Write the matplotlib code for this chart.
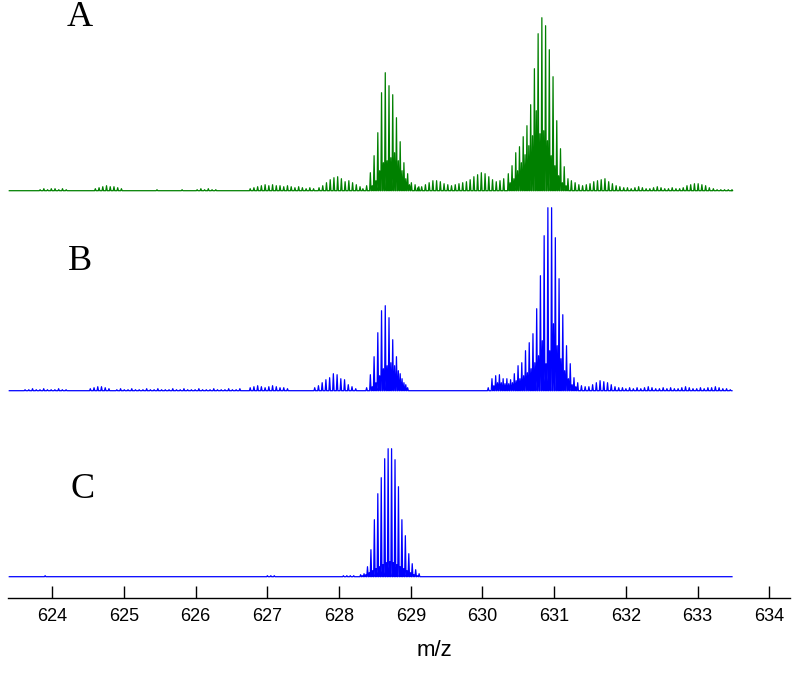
import numpy as np
import matplotlib.pyplot as plt

# isotope peak spacing (m/z) and peak half width used to draw each stick
STEP = 0.052
STEP_C = 0.048
HALF_W = 0.010

MZ_START = 623.40
MZ_END = 633.48

# each run: (m/z of first peak, intensities)
a_runs = [
    (623.83, [1, 2, 1, 2, 2, 1, 2, 1]),
    (624.60, [2, 3, 4, 5, 4, 4, 3, 2]),
    (625.46, [1]),
    (625.81, [1]),
    (626.02, [1, 2, 1, 2, 1, 1]),
    (626.76, [2, 3, 4, 5, 6, 5, 6, 5, 5, 4, 5, 4, 3, 4, 3, 2, 3, 2]),
    (627.72, [3, 5, 8, 11, 13, 14, 12, 9, 10, 8, 6, 4]),
    (628.332, [2, 5, 18, 35, 58, 98, 118, 105, 96, 73, 49, 28, 17, 8, 6, 4]),
    (628.462, [5, 10, 20, 28, 30, 33, 38, 30, 20, 12, 6]),
    (629.10, [3, 4, 6, 8, 10, 10, 9, 7, 6, 5, 6, 7, 8, 9, 11, 14, 16, 18, 17,
              14, 11, 9, 10, 12]),
    (630.36, [17, 25, 38, 44, 54, 65, 86, 122, 157, 173, 165, 141, 114, 70,
              42, 24, 12]),
    (630.386, [8, 12, 20, 28, 36, 45, 55, 80, 57, 60, 50, 35, 25, 15, 8, 5]),
    (631.24, [10, 8, 6, 5, 6, 7, 9, 10, 11, 12, 9, 7, 5, 4]),
    (631.97, [3, 3, 2, 3, 4, 3, 2, 2, 3, 4, 3, 2, 2, 3, 2, 2]),
    (632.80, [3, 5, 6, 7, 7, 6, 5, 3]),
    (633.22, [2, 1, 1, 1, 1, 1]),
]

b_runs = [
    (623.62, [1, 1, 2, 1, 1, 2, 1, 1, 1, 2, 1, 1]),
    (624.53, [2, 3, 4, 4, 3, 2]),
    (624.90, [1, 2, 1, 1, 2, 1, 1, 1, 2, 1, 1, 2, 1, 1, 1, 2, 1, 1, 2, 1, 1,
              1, 2, 1, 1, 1, 2, 1, 1, 1, 2, 1, 1, 2]),
    (626.76, [3, 4, 5, 4, 3, 4, 5, 4, 3, 3, 2]),
    (627.66, [3, 5, 8, 11, 13, 17, 16, 12, 11, 6, 4, 2]),
    (628.384, [3, 16, 34, 58, 80, 85, 73, 51, 34, 17, 8, 3]),
    (628.462, [4, 8, 15, 22, 25, 28, 25, 20, 12, 6]),
    (630.08, [3, 12, 15, 16, 12, 12, 11, 17, 25, 28, 40, 48, 57, 82, 115, 155,
              183, 183, 153, 112, 76, 45, 27, 13, 8]),
    (630.158, [5, 8, 8, 7, 7, 8, 10, 12, 15, 18, 22, 28, 35, 50, 27, 40, 67,
               45, 32, 20, 12, 6, 4]),
    (631.38, [5, 4, 4, 6, 8, 10, 9, 8, 6, 4, 3, 3]),
    (632.00, [2, 3, 2, 3, 2, 3, 4, 3, 2, 2, 3, 2, 3, 2, 2, 3, 4, 3, 2, 2, 3,
              2, 3, 3, 4, 3, 2, 2, 1]),
]

c_runs_main = [
    (623.90, [1]),
    (627.00, [1, 1, 1]),
    (628.06, [1, 1, 1, 1]),
    (628.30, [2, 3, 10, 27, 57, 83, 99, 118, 128, 128, 117, 90, 57, 41, 23,
              13, 7, 3]),
]
c_runs_minor = [
    (628.324, [1, 2, 4, 6, 8, 10, 12, 14, 15, 14, 12, 10, 8, 6, 4, 2, 1]),
]

# baselines of the three traces, in the same units as the intensities
OFFSETS = {"A": 407.3, "B": 207.3, "C": 21.3}
LABEL_POS = {"A": (80, 18), "B": (80, 262), "C": (83, 490)}


def profile(runs_with_steps):
    peaks = []
    for runs, step in runs_with_steps:
        for start, heights in runs:
            for i, h in enumerate(heights):
                peaks.append((start + i * step, h))
    peaks.sort()
    xs = [MZ_START]
    ys = [0.0]
    for m, h in peaks:
        xs += [m - HALF_W, m, m + HALF_W]
        ys += [0.0, h, 0.0]
    xs.append(MZ_END)
    ys.append(0.0)
    return np.array(xs), np.array(ys)


fig = plt.figure(figsize=(8, 6.76), dpi=100)
ax = fig.add_axes([8 / 800, 78 / 676, 782 / 800, 598 / 676])

xa, ya = profile([(a_runs, STEP)])
xb, yb = profile([(b_runs, STEP)])
xc, yc = profile([(c_runs_main, STEP_C), (c_runs_minor, STEP_C)])

ax.plot(xa, ya + OFFSETS["A"], color="#008000", lw=0.9)
ax.plot(xb, yb + OFFSETS["B"], color="#0000ff", lw=0.9)
ax.plot(xc, yc + OFFSETS["C"], color="#0000ff", lw=0.9)

ax.set_xlim(623.382, 634.289)
ax.set_ylim(0, 598)
ax.set_xticks(np.arange(624, 635, 1))
ax.set_yticks([])
for s in ["top", "left", "right"]:
    ax.spines[s].set_visible(False)
ax.spines["bottom"].set_linewidth(1.0)
ax.tick_params(axis="x", direction="in", length=9, width=1.0, pad=7,
               labelsize=13)
for lab in ax.get_xticklabels():
    lab.set_family("Liberation Sans")

fig.text(434 / 800, 1 - 651 / 676, "m/z", ha="center", va="center",
         fontsize=16, family="Liberation Sans")

for name, (px, py) in LABEL_POS.items():
    fig.text(px / 800, 1 - py / 676, name, ha="center", va="center",
             fontsize=26, family="Liberation Serif")

fig.savefig("out.png", dpi=100)
